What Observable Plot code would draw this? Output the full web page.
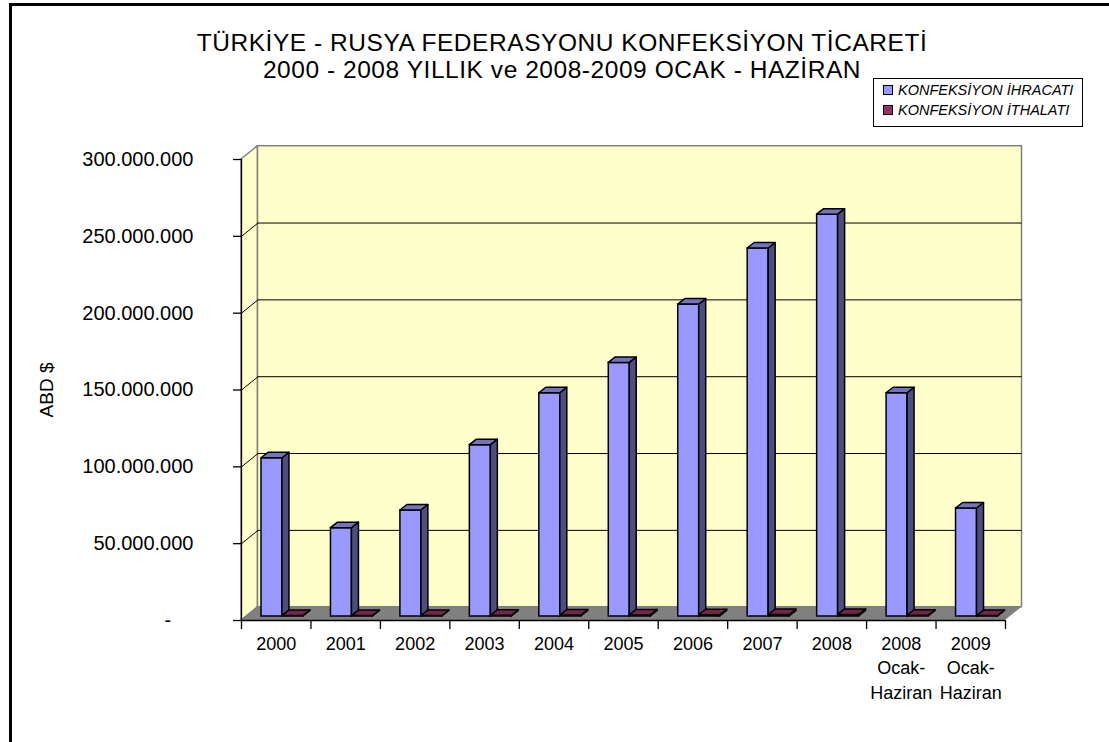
<!DOCTYPE html>
<html><head><meta charset="utf-8">
<script src="https://cdn.jsdelivr.net/npm/d3@7"></script>
<script src="https://cdn.jsdelivr.net/npm/@observablehq/plot@0.6"></script>
<style>
html,body{margin:0;padding:0;background:#fff;}
body{width:1109px;height:742px;position:relative;overflow:hidden;font-family:"Liberation Sans",Arial,sans-serif;}
#chart{position:absolute;left:0;top:0;}
#frame{position:absolute;left:9px;top:3px;width:1130px;height:760px;border:3px solid #000;box-sizing:border-box;pointer-events:none;}
#title{position:absolute;left:0;top:29px;width:1124px;text-align:center;font-size:24.5px;line-height:27px;letter-spacing:0.55px;color:#000;white-space:nowrap;}
#legend{position:absolute;left:873px;top:78px;width:210px;height:49px;border:1px solid #000;box-sizing:border-box;background:#fff;font-style:italic;font-size:14.5px;color:#000;}
.row{position:absolute;left:9px;height:18px;line-height:18px;white-space:nowrap;}
.sw{display:inline-block;width:8px;height:8px;border:1px solid #000;margin-right:5px;vertical-align:0px;}
</style></head>
<body>
<div id="chart"></div>
<div id="title"></div>
<div id="legend"></div>
<div id="frame"></div>
<script>
// ---- data ----
const titleLines = ["TÜRKİYE - RUSYA FEDERASYONU KONFEKSİYON TİCARETİ", "2000 - 2008 YILLIK ve 2008-2009 OCAK - HAZİRAN"];
const categories = ["2000","2001","2002","2003","2004","2005","2006","2007","2008","2008\nOcak-\nHaziran","2009\nOcak-\nHaziran"];
const ihracat = [103.0e6, 57.5e6, 69.0e6, 111.5e6, 145.3e6, 165.0e6, 203.0e6, 239.5e6, 261.5e6, 145.3e6, 70.3e6];
const ithalat = [0.4e6, 0.3e6, 0.3e6, 0.5e6, 0.6e6, 0.7e6, 0.8e6, 0.9e6, 1.0e6, 0.5e6, 0.3e6];
const seriesNames = ["KONFEKSİYON İHRACATI", "KONFEKSİYON İTHALATI"];
const yTicks = [0, 50e6, 100e6, 150e6, 200e6, 250e6, 300e6];
const yLabel = "ABD $";

// ---- styling / geometry ----
const frontColors = ["#9999FF", "#993366"];
const sideColors = ["#4D4D80", "#4D1A33"];
const topColors = ["#7373BF", "#73264D"];
const W = 1109, H = 742, mL = 241, mR = 104, mT = 159, mB = 122;
const n = categories.length;
const yMax = 300e6;
const kx = (W - mL - mR) / n;
const ky = (H - mT - mB) / yMax;
const ux = p => p / kx, uy = p => p / ky;
const wallDX = ux(16.5), wallDY = uy(13.3);
const barPX = ux(5), barPY = uy(4);
const depX = ux(7), depY = uy(5.5);
const barStart = [0.216, 0.518], barW = 0.302;

const series = [ihracat, ithalat];
const fronts = [], sides = [], tops = [];
series.forEach((vals, s) => {
  vals.forEach((v, i) => {
    const x1 = i + barStart[s] + barPX, x2 = x1 + barW;
    const b = barPY, t = v + barPY;
    const id = s + "-" + i;
    fronts.push({s, x1, x2, y1: b, y2: t});
    sides.push({s, id, x: x2, y1: b, y2: t}, {s, id, x: x2 + depX, y1: b + depY, y2: t + depY});
    tops.push({s, id, y: t, x1, x2}, {s, id, y: t + depY, x1: x1 + depX, x2: x2 + depX});
  });
});

const leftWall = [{x: 0, y1: 0, y2: yMax}, {x: wallDX, y1: wallDY, y2: yMax + wallDY}];
const backWall = [{x1: wallDX, x2: n + wallDX, y1: wallDY, y2: yMax + wallDY}];
const floor = [{y: 0, x1: 0, x2: n}, {y: wallDY, x1: wallDX, x2: n + wallDX}];
const gridTicks = yTicks.filter(t => t > 0 && t < yMax);
const diagTicks = yTicks.filter(t => t < yMax);

const fmt = d => d === 0 ? "-\u00a0\u00a0\u00a0\u00a0" : d3.format(",")(d).replace(/,/g, ".");

const marks = [
  Plot.areaY(leftWall, {x: "x", y1: "y1", y2: "y2", fill: "#FFFFCC", stroke: "#808080", strokeWidth: 1.5}),
  Plot.rect(backWall, {x1: "x1", x2: "x2", y1: "y1", y2: "y2", fill: "#FFFFCC", stroke: "#808080", strokeWidth: 1.5}),
  Plot.ruleY(gridTicks, {y: d => d + wallDY, x1: () => wallDX, x2: () => n + wallDX, stroke: "#000", strokeWidth: 1}),
  Plot.link(diagTicks, {x1: () => 0, y1: d => d, x2: () => wallDX, y2: d => d + wallDY, stroke: "#000", strokeWidth: 1}),
  Plot.areaX(floor, {y: "y", x1: "x1", x2: "x2", fill: "#808080"}),
  Plot.ruleX([0], {stroke: "#000", strokeWidth: 1.3}),
  Plot.ruleY([0], {stroke: "#000", strokeWidth: 1.3}),
  Plot.axisY(yTicks, {tickSize: 8, tickPadding: 40, tickFormat: fmt, label: null, stroke: "#000", strokeWidth: 1.3, fill: "#000"}),
  Plot.axisX(d3.range(n + 1), {tickSize: 9, tickFormat: () => "", label: null, stroke: "#000", strokeWidth: 1.3}),
  Plot.text(categories, {x: (d, i) => i + 0.5, y: () => 0, text: d => d, lineAnchor: "top", dy: 12, fontSize: 18, lineHeight: 1.36, fill: "#000"}),
  Plot.text([yLabel], {frameAnchor: "left", textAnchor: "middle", dx: 46 - mL, rotate: -90, text: d => d, fontSize: 19, fill: "#000"})
];
[0, 1].forEach(s => {
  marks.push(
    Plot.rect(fronts.filter(d => d.s === s), {x1: "x1", x2: "x2", y1: "y1", y2: "y2", fill: frontColors[s], stroke: "#000", strokeWidth: 1.5}),
    Plot.areaY(sides.filter(d => d.s === s), {x: "x", y1: "y1", y2: "y2", z: "id", fill: sideColors[s], stroke: "#000", strokeWidth: 1.5}),
    Plot.areaX(tops.filter(d => d.s === s), {y: "y", x1: "x1", x2: "x2", z: "id", fill: topColors[s], stroke: "#000", strokeWidth: 1.5})
  );
});

const chart = Plot.plot({
  width: W, height: H,
  marginLeft: mL, marginRight: mR, marginTop: mT, marginBottom: mB,
  x: {domain: [0, n]},
  y: {domain: [0, yMax]},
  style: {fontFamily: "'Liberation Sans', Arial, sans-serif", fontSize: "20px", color: "#000", background: "transparent", overflow: "visible"},
  marks
});
document.getElementById("chart").appendChild(chart);

document.getElementById("title").innerHTML = titleLines.map(t => `<div>${t}</div>`).join("");
document.getElementById("legend").innerHTML = seriesNames.map((nm, s) =>
  `<div class="row" style="top:${2 + s * 20}px"><span class="sw" style="background:${frontColors[s]}"></span>${nm}</div>`).join("");
</script>
</body></html>
